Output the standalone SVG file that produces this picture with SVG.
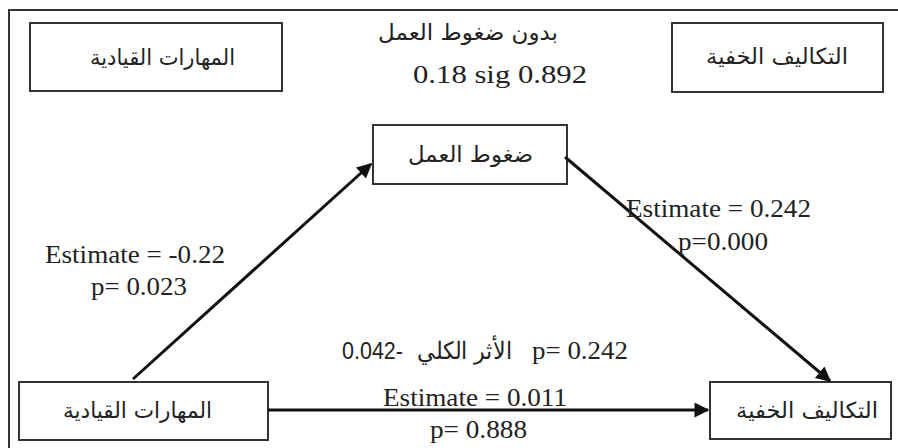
<svg xmlns="http://www.w3.org/2000/svg" width="898" height="448" viewBox="0 0 898 448">
<defs>
<style>
.box{fill:#fff;stroke:#333;stroke-width:2}
.ar{font-family:"DejaVu Sans","Liberation Sans",sans-serif;font-size:22px;fill:#222}
.tm{font-family:"Liberation Serif",serif;font-size:25px;fill:#222}
.sn{font-family:"Liberation Sans",sans-serif;font-size:24px;fill:#222}
.con{stroke:#111;stroke-width:3;fill:none}
</style>
<marker id="arr" viewBox="0 0 10 10" refX="9" refY="5" markerWidth="5.5" markerHeight="5" orient="auto" markerUnits="strokeWidth">
<path d="M0,0 L10,5 L0,10 z" fill="#111"/>
</marker>
</defs>
<rect width="898" height="448" fill="#fff"/>
<path d="M9,448 V10 H898" fill="none" stroke="#333" stroke-width="2"/>

<g id="top-left">
<rect class="box" x="30" y="23" width="252" height="68"/>
<text class="ar" x="90" y="65" textLength="145" lengthAdjust="spacingAndGlyphs">المهارات القيادية</text>
</g>
<g id="top-right">
<rect class="box" x="672" y="23" width="211" height="69"/>
<text class="ar" x="706" y="64" textLength="142" lengthAdjust="spacingAndGlyphs">التكاليف الخفية</text>
</g>
<g id="top-center">
<text class="ar" x="378" y="40" font-size="23" textLength="180" lengthAdjust="spacingAndGlyphs">بدون ضغوط العمل</text>
<text class="tm" x="413" y="83" textLength="174" lengthAdjust="spacingAndGlyphs">0.18 sig 0.892</text>
</g>
<g id="mediator">
<rect class="box" x="373" y="125" width="194" height="59"/>
<text class="ar" x="408" y="162" textLength="125" lengthAdjust="spacingAndGlyphs">ضغوط العمل</text>
</g>
<g id="independent">
<rect class="box" x="19" y="382" width="249" height="58"/>
<text class="ar" x="63" y="418" textLength="149" lengthAdjust="spacingAndGlyphs">المهارات القيادية</text>
</g>
<g id="dependent">
<rect class="box" x="710" y="382" width="181" height="57"/>
<text class="ar" x="736" y="418" textLength="142" lengthAdjust="spacingAndGlyphs">التكاليف الخفية</text>
</g>

<g id="connectors">
<line class="con" x1="133" y1="379" x2="371" y2="164" marker-end="url(#arr)"/>
<line class="con" x1="565" y1="157" x2="830" y2="381" marker-end="url(#arr)"/>
<line class="con" x1="268" y1="410" x2="708" y2="410" marker-end="url(#arr)"/>
</g>

<g id="labels">
<text class="tm" x="45" y="263" textLength="180" lengthAdjust="spacingAndGlyphs">Estimate = -0.22</text>
<text class="tm" x="91" y="295" textLength="96" lengthAdjust="spacingAndGlyphs">p= 0.023</text>
<text class="tm" x="626" y="217" textLength="185" lengthAdjust="spacingAndGlyphs">Estimate = 0.242</text>
<text class="tm" x="678" y="250" textLength="90" lengthAdjust="spacingAndGlyphs">p=0.000</text>
<text class="sn" x="342" y="359" textLength="61" lengthAdjust="spacingAndGlyphs">0.042-</text>
<text class="sn" x="417" y="359" font-size="20" textLength="95" lengthAdjust="spacingAndGlyphs">الأثر الكلي</text>
<text class="tm" x="532" y="359" textLength="96" lengthAdjust="spacingAndGlyphs">p= 0.242</text>
<text class="tm" x="383" y="406" textLength="184" lengthAdjust="spacingAndGlyphs">Estimate = 0.011</text>
<text class="tm" x="430" y="438" textLength="97" lengthAdjust="spacingAndGlyphs">p= 0.888</text>
</g>
</svg>
